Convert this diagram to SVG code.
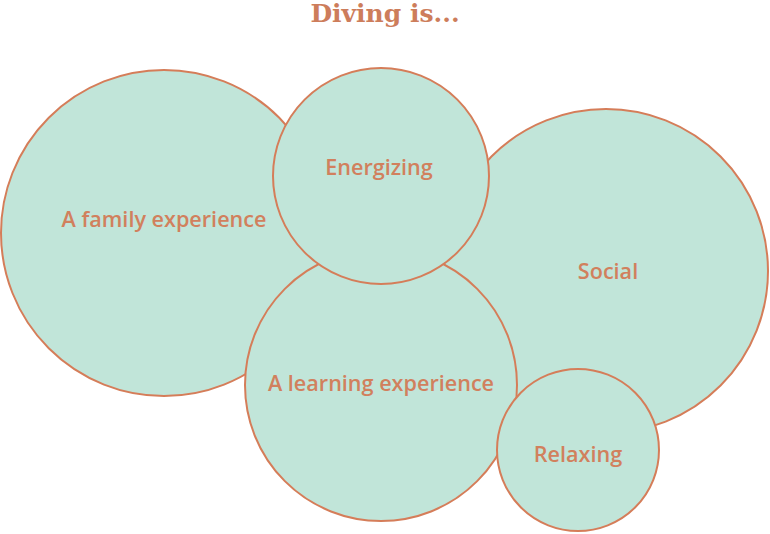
<svg xmlns="http://www.w3.org/2000/svg" width="770" height="534" viewBox="0 0 770 534">
<style>
.b{fill:#c1e5d9;stroke:#d57d59;stroke-width:2}
.l{font-family:"Open Sans","Noto Sans",sans-serif;font-weight:600;font-size:21.6px;fill:#d1805d;text-anchor:middle}
.t{font-family:"DejaVu Serif","Liberation Serif",serif;font-weight:bold;font-size:25px;fill:#cd7d5b;text-anchor:middle}
</style>
<rect width="770" height="534" fill="#ffffff"/>
<text class="t" x="385" y="22">Diving is...</text>
<g id="family"><circle class="b" cx="164" cy="233" r="163"/><text class="l" x="164" y="227">A family experience</text></g>
<g id="social"><circle class="b" cx="606" cy="271" r="162"/><text class="l" x="608" y="279">Social</text></g>
<g id="learning"><circle class="b" cx="381" cy="385" r="136"/><text class="l" x="381" y="391">A learning experience</text></g>
<g id="energizing"><circle class="b" cx="381" cy="176" r="108"/><text class="l" x="379" y="175">Energizing</text></g>
<g id="relaxing"><circle class="b" cx="578" cy="450" r="81"/><text class="l" x="578" y="462">Relaxing</text></g>
<g id="connectors"></g>
</svg>
